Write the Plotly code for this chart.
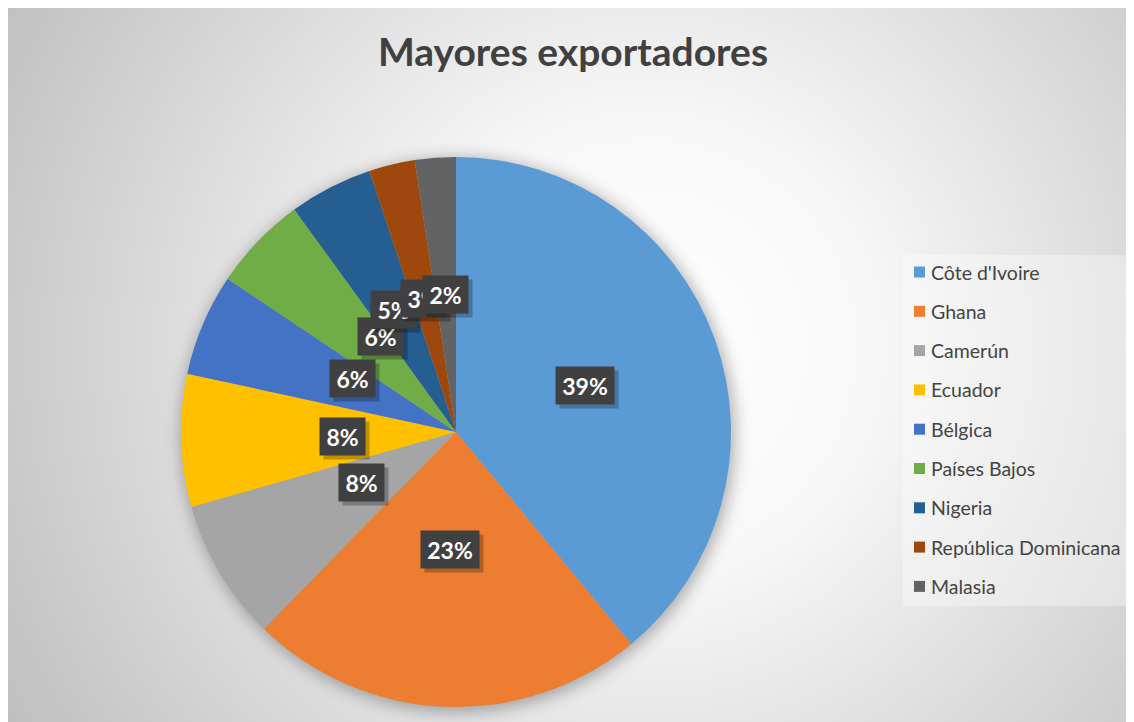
import base64
import math
import plotly.graph_objects as go

# ---------------- data ----------------
countries = ["Côte d'Ivoire", "Ghana", "Camerún", "Ecuador", "Bélgica",
             "Países Bajos", "Nigeria", "República Dominicana", "Malasia"]
shares = [39.0, 23.3, 8.3, 7.8, 6.0, 5.6, 4.9, 2.7, 2.4]
colors = ["#5B9BD5", "#ED7D31", "#A5A5A5", "#FFC000", "#4472C4",
          "#70AD47", "#255E91", "#9E480E", "#636363"]
title_text = "Mayores exportadores"

# ---------------- layout constants ----------------
W, H = 1126, 714
CX, CY, R = 448, 424, 275          # pie centre / radius in px
FONT = "Lato, 'Open Sans', sans-serif"
TXT = "#444444"

def px(x):
    return x / W

def py(y):
    return 1 - y / H

# background: radial gradient + soft pie shadow (SVG data URI)
svg = f"""<svg xmlns='http://www.w3.org/2000/svg' width='{W}' height='{H}' viewBox='0 0 {W} {H}'>
<defs>
<radialGradient id='g' gradientUnits='userSpaceOnUse' cx='640' cy='340' r='760'>
<stop offset='0' stop-color='#ffffff'/>
<stop offset='0.30' stop-color='#f7f7f7'/>
<stop offset='1' stop-color='#bdbdbd'/>
</radialGradient>
<filter id='b' x='-20%' y='-20%' width='140%' height='140%'><feGaussianBlur stdDeviation='8'/></filter>
</defs>
<rect width='{W}' height='{H}' fill='url(#g)'/>
<circle cx='{CX+2}' cy='{CY+3}' r='{R+2}' fill='#000' fill-opacity='0.30' filter='url(#b)'/>
</svg>"""
bg_uri = "data:image/svg+xml;base64," + base64.b64encode(svg.encode("utf-8")).decode()

fig = go.Figure(go.Pie(
    labels=countries,
    values=shares,
    sort=False,
    direction="clockwise",
    rotation=0,
    marker=dict(colors=colors, line=dict(width=0)),
    textinfo="none",
    hoverinfo="label+percent",
    showlegend=False,
    domain=dict(x=[px(CX - R), px(CX + R)], y=[py(CY + R), py(CY - R)]),
))

annotations = []
shapes = []

# data labels (dark boxes at half radius)
total = sum(shares)
cum = 0.0
for v in shares:
    mid = (cum + v / 2) / total * 2 * math.pi
    cum += v
    lx = CX + 0.5 * R * math.sin(mid)
    ly = CY - 0.5 * R * math.cos(mid)
    pct = f"{round(v / total * 100):d}%"
    bw = 13 * len(pct) + 17
    annotations.append(dict(
        x=px(lx), y=py(ly), xref="paper", yref="paper", text=" ",
        showarrow=False, width=bw, height=35, bgcolor="rgba(0,0,0,0.25)",
        xshift=4, yshift=-4))
    annotations.append(dict(
        x=px(lx), y=py(ly), xref="paper", yref="paper",
        text=f"<b>{pct}</b>", showarrow=False, width=bw, height=35,
        bgcolor="#404040", font=dict(family=FONT, size=23, color="white")))

# legend (manual)
LX0, LX1, LY0, LY1 = 895, 1120, 247, 598
shapes.append(dict(type="rect", xref="paper", yref="paper",
                   x0=px(LX0), x1=px(LX1), y0=py(LY1), y1=py(LY0),
                   fillcolor="rgba(255,255,255,0.35)", line=dict(width=0),
                   layer="below"))
for i, (name, col) in enumerate(zip(countries, colors)):
    yc = 264 + 39.3 * i
    shapes.append(dict(type="rect", xref="paper", yref="paper",
                       x0=px(906), x1=px(917), y0=py(yc + 5.5), y1=py(yc - 5.5),
                       fillcolor=col, line=dict(width=0)))
    annotations.append(dict(
        x=px(921), y=py(yc), xref="paper", yref="paper", text=name,
        showarrow=False, xanchor="left", yanchor="middle",
        font=dict(family=FONT, size=19.5, color=TXT)))

fig.update_layout(
    width=W, height=H,
    margin=dict(l=0, r=0, t=0, b=0),
    paper_bgcolor="#e6e6e6",
    plot_bgcolor="rgba(0,0,0,0)",
    title=dict(text=f"<b>{title_text}</b>", x=px(565), y=py(44),
               xanchor="center", yanchor="middle", xref="paper", yref="container",
               font=dict(family=FONT, size=39, color="#404040")),
    images=[dict(source=bg_uri, xref="paper", yref="paper", x=0, y=1,
                 sizex=1, sizey=1, sizing="stretch", layer="below",
                 xanchor="left", yanchor="top")],
    annotations=annotations,
    shapes=shapes,
)

fig.write_html("out.html")
